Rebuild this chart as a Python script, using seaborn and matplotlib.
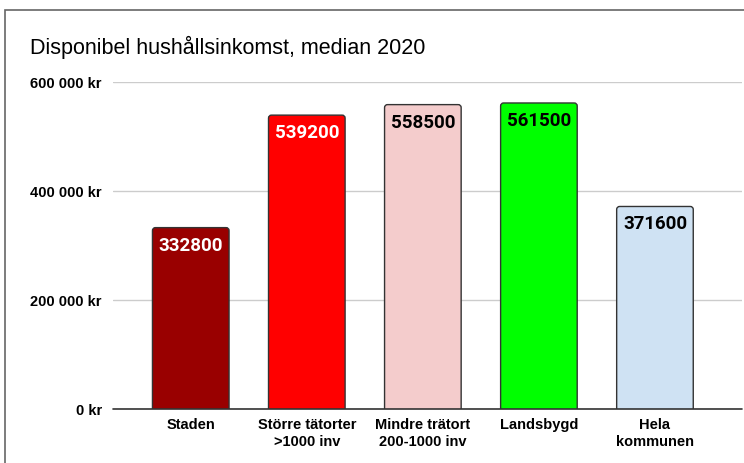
import matplotlib
matplotlib.use("Agg")
import matplotlib.pyplot as plt
import seaborn as sns
import pandas as pd
from matplotlib.patches import FancyBboxPatch, Rectangle
from matplotlib.ticker import FuncFormatter

# -----------------------------
# Data
# -----------------------------
categories = ["Staden", "Större tätorter\n>1000 inv", "Mindre trätort\n200-1000 inv",
              "Landsbygd", "Hela\nkommunen"]
values = [332800, 539200, 558500, 561500, 371600]
colors = ["#990000", "#ff0000", "#f4cccc", "#00ff00", "#cfe2f3"]
label_colors = ["white", "white", "black", "black", "black"]
yticks = [0, 200000, 400000, 600000]

df = pd.DataFrame({"omr": categories, "inkomst": values})

sns.set_style("white")
plt.rcParams["font.family"] = ["Liberation Sans", "DejaVu Sans"]

fig = plt.figure(figsize=(7.44, 4.64), dpi=100)
ax = fig.add_axes([113 / 744, 1 - 410 / 464, (742 - 113) / 744, (410 - 83) / 464])

sns.barplot(data=df, x="omr", y="inkomst", hue="omr", palette=colors,
            saturation=1, legend=False, width=0.66, ax=ax,
            edgecolor="#333333", linewidth=1)

# rounded bar corners
px_x = 1 / 116.0
px_y = 600000 / 327.0
for p in list(ax.patches):
    x, y, w, h = p.get_x(), p.get_y(), p.get_width(), p.get_height()
    fb = FancyBboxPatch((x, y - 10 * px_y), w, h + 10 * px_y,
                        boxstyle="round,pad=0,rounding_size=%f" % (3 * px_x),
                        mutation_aspect=px_y / px_x,
                        facecolor=p.get_facecolor(), edgecolor="#333333",
                        linewidth=1, zorder=2)
    p.remove()
    ax.add_patch(fb)

# value labels
for i, v in enumerate(values):
    ax.text(i, v - 17 * px_y, str(v), ha="center", va="center",
            color=label_colors[i], fontsize=13.5, fontweight="bold",
            family=["Roboto", "DejaVu Sans"], zorder=3)

ax.set_xlim(-0.67, 4.75)
ax.set_ylim(0, 600000)
ax.set_yticks(yticks)
ax.yaxis.set_major_formatter(FuncFormatter(lambda v, _: f"{int(v):,} kr".replace(",", " ")))
ax.grid(axis="y", color="#cccccc", linewidth=1)
ax.set_axisbelow(True)
for s in ax.spines.values():
    s.set_visible(False)
ax.axhline(0, color="#333333", linewidth=1.2, zorder=4, clip_on=False)
ax.tick_params(axis="both", length=0, labelsize=10.5, colors="black")
ax.tick_params(axis="y", pad=8)
ax.tick_params(axis="x", pad=6)
for lbl in ax.get_xticklabels() + ax.get_yticklabels():
    lbl.set_fontweight("bold")
ax.set_xlabel("")
ax.set_ylabel("")

fig.text(30 / 744, 1 - 47 / 464, "Disponibel hushållsinkomst, median 2020",
         fontsize=15.5, va="center", ha="left", color="black")

# screenshot frame
fig.patches.append(Rectangle((5 / 744, -0.1), 1.0, 1.1 - 11 / 464,
                             transform=fig.transFigure, fill=False,
                             edgecolor="#666666", linewidth=1.2))

fig.savefig("out.png", dpi=100)
